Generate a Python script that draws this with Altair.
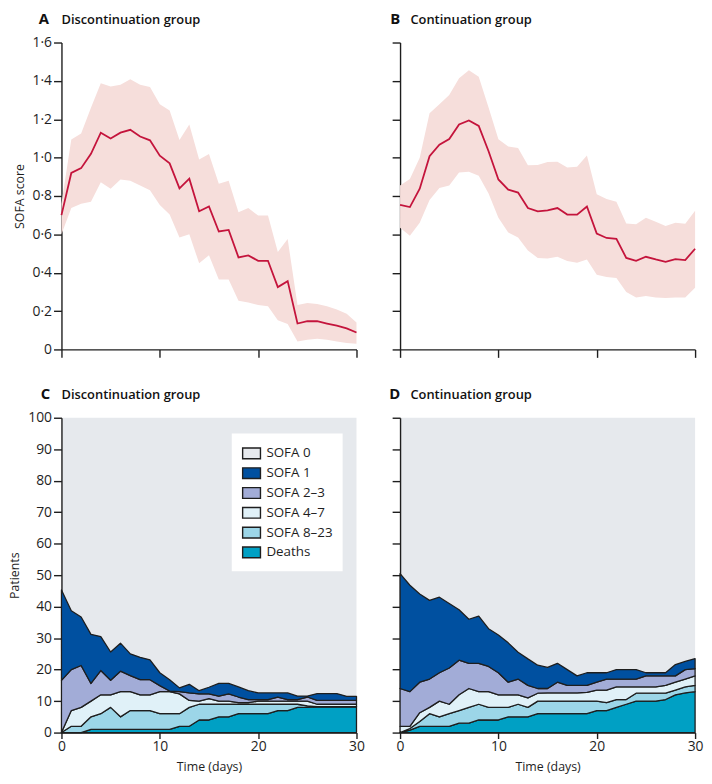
import altair as alt
import pandas as pd

FONT = "Open Sans"
INK = "#1e1e1e"
RED = "#c4143c"
PINK = "#f6dedb"
GREY = "#e6e9ed"

days = list(range(31))

# Panel A - discontinuation group, mean SOFA score with 95% CI
a_mean = [0.70, 0.92, 0.945, 1.02, 1.13, 1.10, 1.13, 1.145, 1.11, 1.09, 1.01, 0.97, 0.84, 0.89, 0.72, 0.745,
          0.615, 0.623, 0.48, 0.49, 0.462, 0.462, 0.325, 0.356, 0.135, 0.147, 0.147, 0.135, 0.124, 0.11, 0.088]
a_upper = [0.76, 1.095, 1.126, 1.26, 1.388, 1.371, 1.38, 1.409, 1.38, 1.368, 1.278, 1.245, 1.092, 1.173, 0.99, 1.019,
           0.864, 0.88, 0.715, 0.737, 0.698, 0.698, 0.508, 0.576, 0.232, 0.242, 0.237, 0.225, 0.208, 0.186, 0.14]
a_lower = [0.60, 0.737, 0.759, 0.77, 0.872, 0.838, 0.886, 0.88, 0.855, 0.83, 0.753, 0.703, 0.584, 0.601, 0.449, 0.491,
           0.364, 0.364, 0.254, 0.245, 0.232, 0.225, 0.152, 0.132, 0.042, 0.051, 0.056, 0.051, 0.042, 0.034, 0.03]

# Panel B - continuation group
b_mean = [0.753, 0.742, 0.838, 1.007, 1.067, 1.097, 1.173, 1.194, 1.165, 1.033, 0.886, 0.833, 0.818, 0.737, 0.72, 0.725,
          0.737, 0.703, 0.703, 0.745, 0.604, 0.581, 0.576, 0.477, 0.462, 0.483, 0.469, 0.457, 0.471, 0.466, 0.525]
b_upper = [0.855, 0.889, 0.999, 1.231, 1.278, 1.326, 1.414, 1.456, 1.422, 1.261, 1.096, 1.058, 1.05, 0.96, 0.962, 0.977,
           0.979, 0.948, 0.953, 1.011, 0.809, 0.784, 0.77, 0.657, 0.652, 0.686, 0.665, 0.643, 0.66, 0.655, 0.723]
b_lower = [0.635, 0.593, 0.66, 0.779, 0.842, 0.855, 0.923, 0.926, 0.906, 0.813, 0.686, 0.61, 0.584, 0.516, 0.477, 0.474,
           0.483, 0.461, 0.452, 0.469, 0.389, 0.378, 0.372, 0.3, 0.271, 0.279, 0.271, 0.268, 0.271, 0.271, 0.322]

# Panel C - cumulative patient counts (top edge of each band)
c_deaths = [0, 0, 0, 1, 1, 1, 1, 1, 1, 1, 1, 1, 2, 2, 4, 4, 5, 5, 6, 6, 6, 6, 7, 7, 8, 8, 8.2, 8.2, 8.2, 8.2, 8.2]
c_8_23 = [0, 2, 2, 5, 6, 8, 5, 7, 7, 7, 6, 6, 6, 8, 9, 9, 9, 9, 9, 9, 9, 9, 9, 9, 9, 8.5, 8.2, 8.2, 8.2, 8.2, 8.2]
c_4_7 = [0, 7, 8, 10, 12, 12, 13, 13, 12, 12, 13, 13, 12.3, 10.2, 10, 10.8, 10, 10, 9.5, 9.5, 10, 10, 10, 10, 10, 10,
         9, 9, 9, 9, 9]
c_2_3 = [16.6, 20, 21.3, 15.6, 19.7, 16.6, 19.5, 18.1, 16.8, 16.8, 14.9, 13.2, 13, 12.6, 12.3, 12.3, 11.6, 12.3, 11.3,
         10.5, 10.5, 10.5, 11.3, 10.5, 10.5, 11.3, 10.2, 10.2, 10.2, 10.2, 10.2]
c_1 = [45.3, 38.7, 36.7, 31.2, 30.5, 25.6, 28.4, 25, 23.9, 23.1, 19, 16.8, 14.2, 15.3, 13.3, 14.4, 15.6, 15.6, 14.5,
       13.3, 12.6, 12.6, 12.6, 12.6, 11.6, 11.6, 12.4, 12.4, 12.4, 11.5, 11.5]

# Panel D
d_deaths = [0, 0.8, 2, 2, 2, 2, 3, 3, 4, 4, 4, 5, 5, 5, 6, 6, 6, 6, 6, 6, 7, 7, 8, 9, 10, 10, 10, 10.5, 12, 12.6, 13]
d_8_23 = [0, 1.3, 3.5, 6, 5, 6, 7, 8, 9, 8, 8, 8, 9, 8, 10, 10, 10, 10, 10, 10, 10, 9.5, 10.5, 10.5, 12.5, 12.5, 12.5,
          12.5, 13.5, 14.5, 15]
d_4_7 = [2, 2, 6.3, 8, 10, 9, 12, 14, 13, 13, 12, 12, 12, 11, 12.5, 12.6, 12.6, 12.6, 12.6, 12.8, 13.5, 13.5, 14.5,
         14.5, 14.5, 14.5, 14.5, 15, 16, 17, 18]
d_2_3 = [14, 13, 16, 17, 19, 20.5, 23, 22, 22, 21, 19, 16, 17, 15, 14, 14, 16, 15, 15, 15, 16, 17, 17, 17, 17, 18, 18,
         18, 18, 20, 20.3]
d_1 = [50.5, 46.8, 44, 42, 43, 41, 39, 36, 37, 33, 31, 28.5, 25.5, 23.4, 21.4, 20.7, 22, 20, 18, 19, 19, 19, 20, 20,
       20, 19, 19, 19, 21.6, 22.6, 23.5]
zeros = [0] * 31

categories = ["SOFA 0", "SOFA 1", "SOFA 2–3", "SOFA 4–7", "SOFA 8–23", "Deaths"]
cat_colors = [GREY, "#0050a0", "#a2acd7", "#e0f1f8", "#9cd6e8", "#00a0c4"]

sofa_ticks = [0, 0.2, 0.4, 0.6, 0.8, 1.0, 1.2, 1.4, 1.6]
patient_ticks = list(range(0, 101, 10))
day_ticks = [0, 10, 20, 30]

W = 298
HT = 310
HB = 318


def panel_text(letter, name, lx, nx, y=-19):
    df = pd.DataFrame({"letter": [letter], "name": [name]})
    let = alt.Chart(df).mark_text(align="left", baseline="alphabetic", font=FONT, fontSize=15,
                                  fontWeight="bold", color="#111").encode(
        text="letter:N", x=alt.value(lx), y=alt.value(y))
    nm = alt.Chart(df).mark_text(align="left", baseline="alphabetic", font=FONT, fontSize=13,
                                 fontWeight=600, color="#111").encode(
        text="name:N", x=alt.value(nx), y=alt.value(y))
    return [let, nm]


def band_panel(mean, lo, hi, letter, name, lx, nx, first):
    df = pd.DataFrame({"day": days, "mean": mean, "lo": lo, "hi": hi})
    yaxis = alt.Axis(values=sofa_ticks, labels=first, title="SOFA score" if first else None, tickSize=8,
                     labelExpr="datum.value == 0 ? '0' : replace(format(datum.value, '.1f'), '.', '·')")
    xaxis = alt.Axis(values=day_ticks, labels=False, title=None, tickSize=8)
    xs = alt.Scale(domain=[0, 30], nice=False)
    ys = alt.Scale(domain=[0, 1.6], nice=False)
    band = alt.Chart(df).mark_area(color=PINK, opacity=1).encode(
        x=alt.X("day:Q", scale=xs, axis=xaxis),
        y=alt.Y("lo:Q", scale=ys, axis=yaxis),
        y2="hi:Q")
    line = alt.Chart(df).mark_line(color=RED, strokeWidth=1.8).encode(
        x=alt.X("day:Q", scale=xs, axis=xaxis),
        y=alt.Y("mean:Q", scale=ys, axis=yaxis))
    return alt.layer(band, line, *panel_text(letter, name, lx, nx)).properties(width=W, height=HT)


def stack_panel(deaths, s823, s47, s23, s1, letter, name, lx, nx, first):
    bands = [("Deaths", zeros, deaths), ("SOFA 8–23", deaths, s823), ("SOFA 4–7", s823, s47),
             ("SOFA 2–3", s47, s23), ("SOFA 1", s23, s1)]
    rows = []
    for cat, lo, hi in bands:
        for d, l, h in zip(days, lo, hi):
            rows.append({"day": d, "cat": cat, "lo": l, "hi": h})
    df = pd.DataFrame(rows)
    if first:
        legend = alt.Legend(orient="none", legendX=172, legendY=16, title=None, fillColor="white",
                            padding=10, symbolType="M-1,-0.6H1V0.6H-1Z", symbolSize=324,
                            symbolStrokeColor=INK, symbolStrokeWidth=1.4, symbolOpacity=1,
                            labelFont=FONT, labelFontSize=13.5, labelColor=INK, labelOffset=5,
                            rowPadding=1)
    else:
        legend = None
    yaxis = alt.Axis(values=patient_ticks, labels=first, title="Patients" if first else None, tickSize=8)
    xaxis = alt.Axis(values=day_ticks, title="Time (days)", tickSize=6, labelPadding=1, titlePadding=7,
                     labelFlush=False)
    area = alt.Chart(df).mark_area(stroke=INK, strokeWidth=1.3, strokeJoin="round", opacity=1).encode(
        x=alt.X("day:Q", scale=alt.Scale(domain=[0, 30], nice=False), axis=xaxis),
        y=alt.Y("hi:Q", scale=alt.Scale(domain=[0, 100], nice=False), axis=yaxis, stack=None),
        y2="lo:Q",
        color=alt.Color("cat:N", scale=alt.Scale(domain=categories, range=cat_colors), legend=legend))
    return alt.layer(area, *panel_text(letter, name, lx, nx)).properties(
        width=W, height=HB, view=alt.ViewBackground(fill=GREY, strokeWidth=0))


pA = band_panel(a_mean, a_lower, a_upper, "A", "Discontinuation group", -23, 0, True)
pB = band_panel(b_mean, b_lower, b_upper, "B", "Continuation group", -10, 10.5, False)
pC = stack_panel(c_deaths, c_8_23, c_4_7, c_2_3, c_1, "C", "Discontinuation group", -21, 0, True)
pD = stack_panel(d_deaths, d_8_23, d_4_7, d_2_3, d_1, "D", "Continuation group", -11, 10.5, False)

top = alt.hconcat(pA, pB, spacing=44, bounds="flush")
bottom = alt.hconcat(pC, pD, spacing=44, bounds="flush").resolve_scale(color="independent")

chart = alt.vconcat(top, bottom, spacing=29).properties(padding=0).configure_view(
    strokeWidth=0
).configure_axis(
    domainColor=INK, domainWidth=1.4, tickColor=INK, tickWidth=1.4, labelColor=INK, labelFont=FONT,
    labelFontSize=14, titleFont=FONT, titleFontSize=12.5, titleFontWeight="normal", titleColor=INK,
    grid=False, labelPadding=2, titlePadding=6
)

chart.save("out.html", embed_options={"renderer": "svg", "actions": False})
